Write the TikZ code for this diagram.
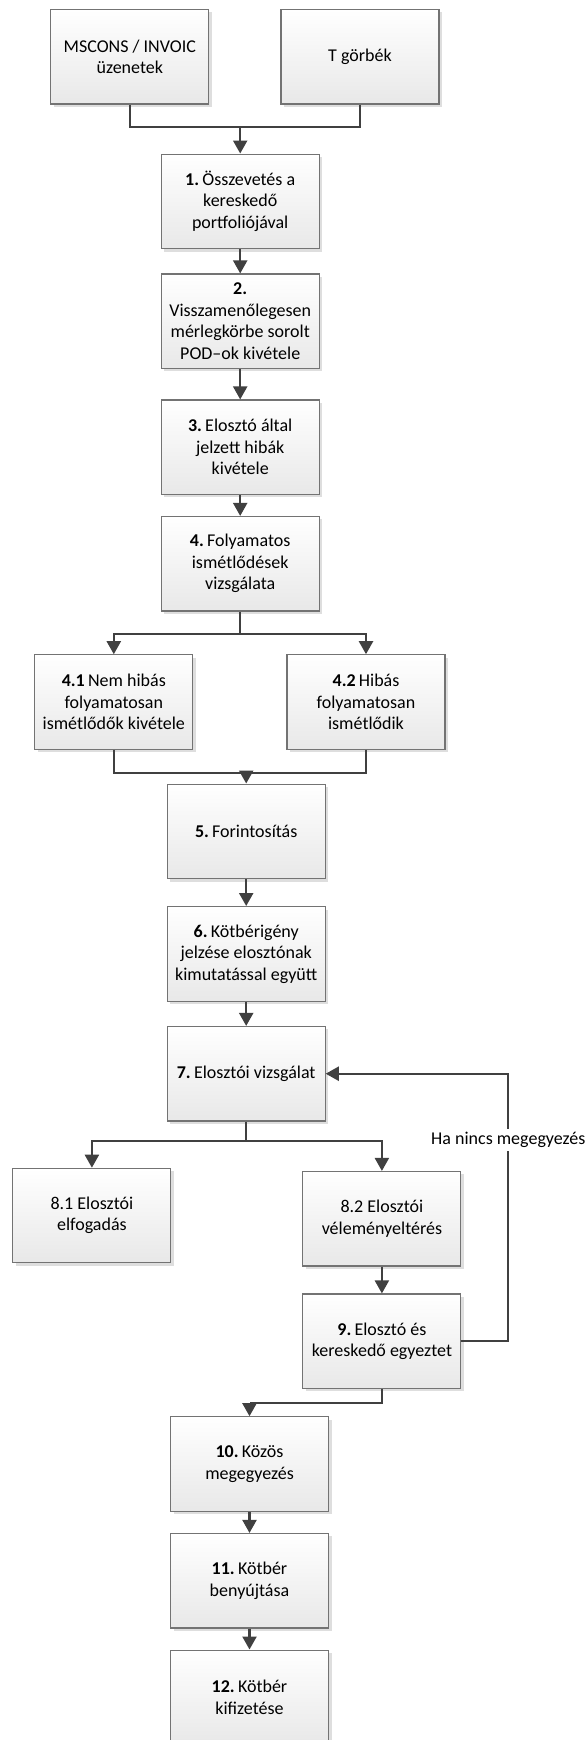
\documentclass[tikz,border=0pt]{standalone}
\usepackage{fontspec}
\setmainfont{Carlito}
\usetikzlibrary{arrows.meta,shadows}
\newcommand{\stepno}[1]{\textbf{#1}\hspace{0.18em}}
\begin{document}
\begin{tikzpicture}[x=1pt,y=-1pt,
  box/.style={draw=black!55, line width=1.1pt, top color=white, bottom color=black!9,
    minimum width=158pt, minimum height=94.5pt, inner sep=0pt, text width=152pt,
    align=flush center, font=\fontsize{18}{21.5}\selectfont,
    drop shadow={shadow xshift=3pt, shadow yshift=-3pt, fill=black!13, opacity=1}},
  conn/.style={draw=black!75, line width=2.2pt},
  arr/.style={conn, -{Triangle[length=13pt,width=14pt]}},
  lbl/.style={fill=white, inner xsep=1pt, inner ysep=3pt, font=\fontsize{18}{21.5}\selectfont}
]
\clip (0,0) rectangle (586,1740);
\fill[white] (0,0) rectangle (586,1740);

\node[box] (ms) at (129.8,56.7) {MSCONS / INVOIC\\üzenetek};
\node[box] (tg) at (360,56.7) {T görbék};
\node[box] (n1) at (240.2,201.3) {\stepno{1.}Összevetés a\\kereskedő\\portfoliójával};
\node[box] (n2) at (240.2,321.2) {\textbf{2.}\\Visszamenőlegesen\\mérlegkörbe sorolt\\POD–ok kivétele};
\node[box] (n3) at (240.2,447.2) {\stepno{3.}Elosztó által\\jelzett hibák\\kivétele};
\node[box] (n4) at (240.2,563.7) {\stepno{4.}Folyamatos\\ismétlődések\\vizsgálata};
\node[box] (n41) at (113.8,702) {\stepno{4.1}Nem hibás\\folyamatosan\\ismétlődők kivétele};
\node[box] (n42) at (366,702) {\stepno{4.2}Hibás\\folyamatosan\\ismétlődik};
\node[box] (n5) at (246.2,831.3) {\stepno{5.}Forintosítás};
\node[box] (n6) at (246.2,953.8) {\stepno{6.}Kötbérigény\\jelzése elosztónak\\kimutatással együtt};
\node[box] (n7) at (246.2,1073.7) {\stepno{7.}Elosztói vizsgálat};
\node[box] (n81) at (91.9,1215.5) {8.1 Elosztói\\elfogadás};
\node[box] (n82) at (381.9,1218.7) {8.2 Elosztói\\véleményeltérés};
\node[box] (n9) at (381.9,1341.2) {\stepno{9.}Elosztó és\\kereskedő egyeztet};
\node[box] (n10) at (249.5,1464) {\stepno{10.}Közös\\megegyezés};
\node[box] (n11) at (249.5,1580.7) {\stepno{11.}Kötbér\\benyújtása};
\node[box] (n12) at (249.5,1697.3) {\stepno{12.}Kötbér\\kifizetése};

\coordinate (j1) at (240.2,127.3);
\coordinate (j4) at (240.2,634);
\coordinate (j5) at (246.2,772.7);
\coordinate (j7) at (246.2,1140.7);
\coordinate (fb) at (508.3,1341.2);
\coordinate (j9) at (381.9,1403.3);
\coordinate (j10) at (249.5,1403.3);

\draw[conn] (ms.south) |- (j1);
\draw[conn] (tg.south) |- (j1);
\draw[arr] (j1) -- (n1.north);
\draw[arr] (n1) -- (n2);
\draw[arr] (n2) -- (n3);
\draw[arr] (n3) -- (n4);
\draw[conn] (n4.south) -- (j4);
\draw[arr] (j4) -| (n41.north);
\draw[arr] (j4) -| (n42.north);
\draw[conn] (n41.south) |- (j5);
\draw[conn] (n42.south) |- (j5);
\draw[arr] (j5) -- (n5.north);
\draw[arr] (n5) -- (n6);
\draw[arr] (n6) -- (n7);
\draw[conn] (n7.south) -- (j7);
\draw[arr] (j7) -| (n81.north);
\draw[arr] (j7) -| (n82.north);
\draw[arr] (n82) -- (n9);
\draw[arr] (n9.east) -- (fb) |- (n7.east);
\node[lbl] (lab) at (508.3,1140) {Ha nincs megegyezés};
\draw[conn] (n9.south) -- (j9) -- (j10);
\draw[arr] (j10) -- (n10.north);
\draw[arr] (n10) -- (n11);
\draw[arr] (n11) -- (n12);
\end{tikzpicture}
\end{document}
